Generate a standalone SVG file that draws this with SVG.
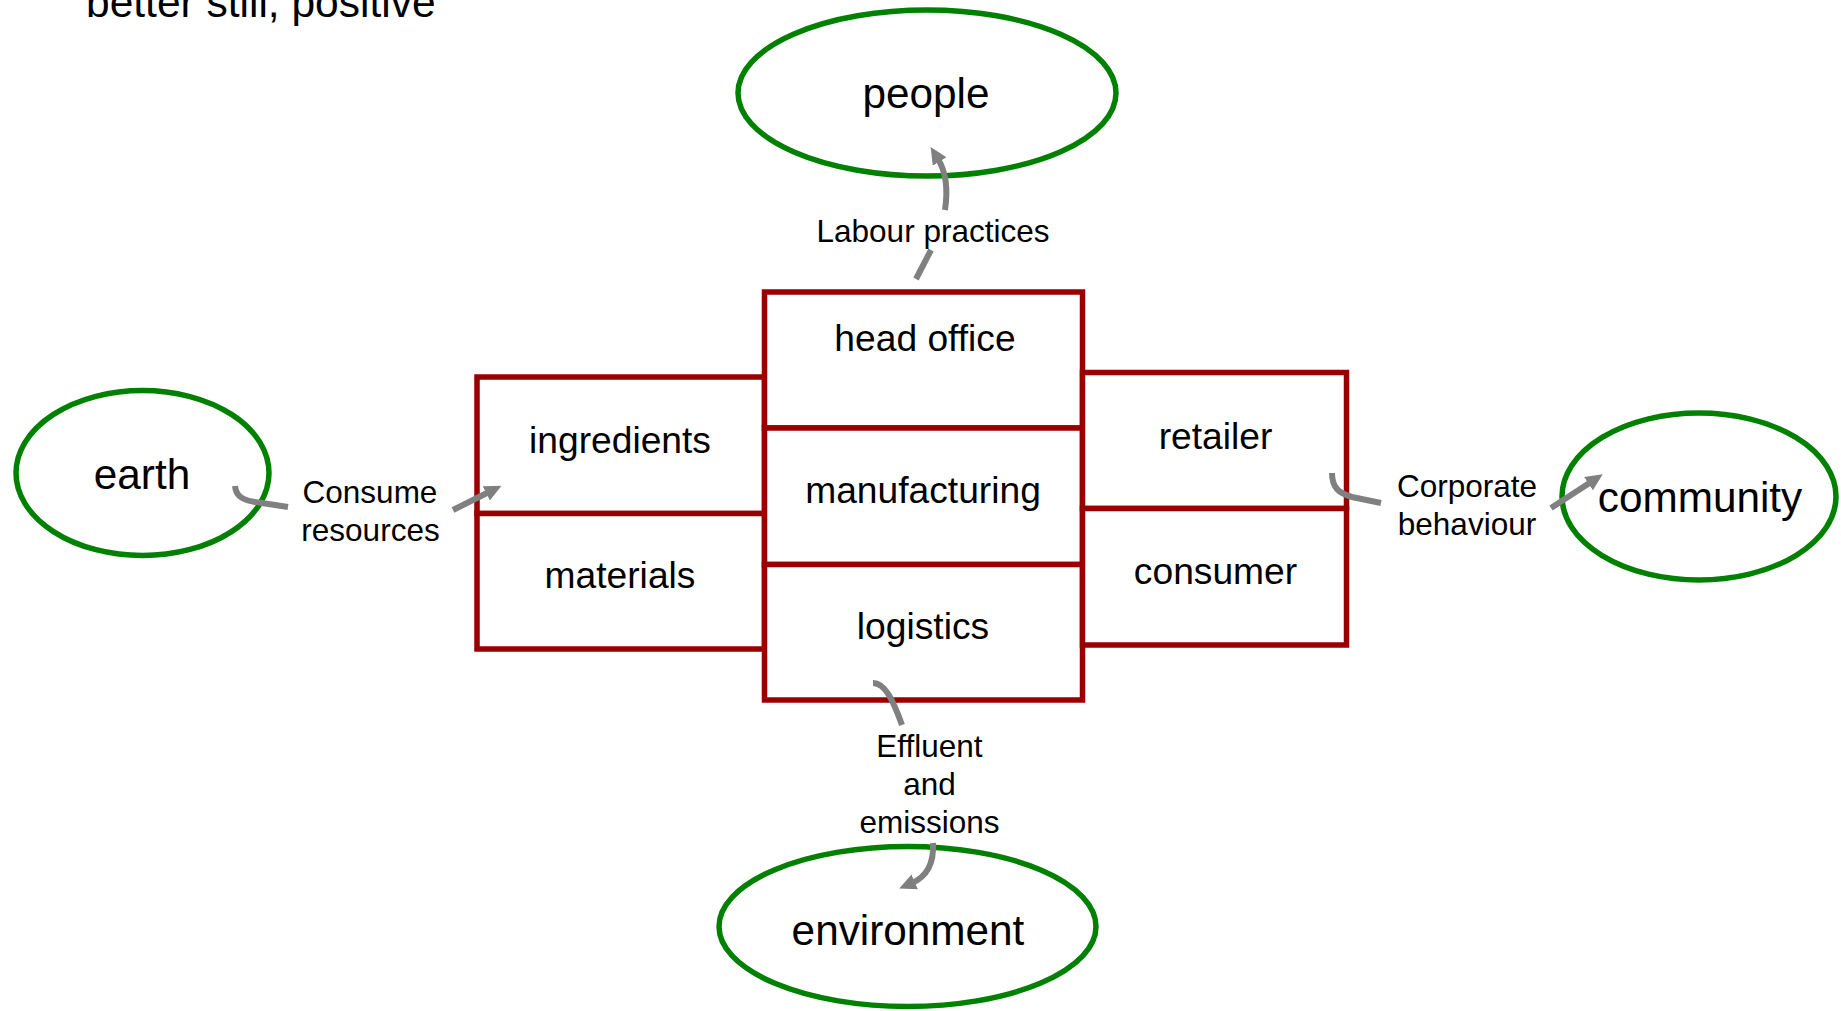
<svg xmlns="http://www.w3.org/2000/svg" width="1841" height="1011" viewBox="0 0 1841 1011">
  <style>
    .bg { fill: #ffffff; }
    .oval { fill: none; stroke: #008000; stroke-width: 5.5; }
    .box { fill: #ffffff; stroke: #990000; stroke-width: 5.5; }
    .conn { fill: none; stroke: #808080; stroke-width: 6; }
    text { font-family: "Liberation Sans", Arial, sans-serif; fill: #000000; }
    .big { font-size: 42.3px; text-anchor: middle; }
    .mid { font-size: 37.2px; text-anchor: middle; }
    .small { font-size: 31.5px; text-anchor: middle; }
    .head { font-size: 42.5px; }
  </style>
  <defs>
    <marker id="arrow" viewBox="0 0 17 16" refX="3" refY="8" markerWidth="17" markerHeight="16" markerUnits="userSpaceOnUse" orient="auto">
      <path d="M0,0 L17,8 L0,16 z" fill="#808080"/>
    </marker>
  </defs>

  <rect class="bg" x="0" y="0" width="1841" height="1011"/>

  <text class="head" x="86" y="17">better still, positive</text>

  <!-- outer stakeholders -->
  <g id="people">
    <ellipse class="oval" cx="927" cy="93" rx="189" ry="83"/>
    <text class="big" x="926" y="108">people</text>
  </g>
  <g id="earth">
    <ellipse class="oval" cx="142.5" cy="473" rx="126.5" ry="82.5"/>
    <text class="big" x="142" y="489">earth</text>
  </g>
  <g id="community">
    <ellipse class="oval" cx="1699" cy="496.5" rx="137" ry="83.5"/>
    <text class="big" x="1700" y="512">community</text>
  </g>
  <g id="environment">
    <ellipse class="oval" cx="907.5" cy="926.5" rx="188.5" ry="80"/>
    <text class="big" x="908" y="945">environment</text>
  </g>

  <!-- supply chain blocks -->
  <g id="ingredients">
    <rect class="box" x="477" y="377" width="287.5" height="136.5"/>
    <text class="mid" x="620" y="452.5">ingredients</text>
  </g>
  <g id="materials">
    <rect class="box" x="477" y="513.5" width="287.5" height="135.5"/>
    <text class="mid" x="620" y="588">materials</text>
  </g>
  <g id="head-office">
    <rect class="box" x="764.5" y="292" width="318" height="136"/>
    <text class="mid" x="925" y="351">head office</text>
  </g>
  <g id="manufacturing">
    <rect class="box" x="764.5" y="428" width="318" height="136.5"/>
    <text class="mid" x="923" y="503">manufacturing</text>
  </g>
  <g id="logistics">
    <rect class="box" x="764.5" y="564.5" width="318" height="135.5"/>
    <text class="mid" x="923" y="639">logistics</text>
  </g>
  <g id="retailer">
    <rect class="box" x="1082.5" y="372.5" width="264" height="136"/>
    <text class="mid" x="1215.5" y="449">retailer</text>
  </g>
  <g id="consumer">
    <rect class="box" x="1082.5" y="508.5" width="264" height="136.5"/>
    <text class="mid" x="1215.5" y="584">consumer</text>
  </g>

  <!-- impact connectors with their labels -->
  <g id="connectors">
    <path class="conn" d="M 931 250 L 916 279"/>
    <path class="conn" d="M 945 210 C 948 190, 946 172, 938 159" marker-end="url(#arrow)"/>
    <text class="small" x="933" y="242">Labour practices</text>

    <path class="conn" d="M 235 486 C 236 498, 245 501, 262 503 L 288 507"/>
    <path class="conn" d="M 453 510 L 489 492" marker-end="url(#arrow)"/>
    <text class="small" x="370" y="503">Consume</text>
    <text class="small" x="370.5" y="541">resources</text>

    <path class="conn" d="M 1332 473 C 1332 487, 1338 493, 1352 497 L 1381 503"/>
    <path class="conn" d="M 1551 508 L 1591 482" marker-end="url(#arrow)"/>
    <text class="small" x="1467" y="497">Corporate</text>
    <text class="small" x="1467" y="535">behaviour</text>

    <path class="conn" d="M 873 683 C 885 683, 893 700, 902 725"/>
    <path class="conn" d="M 933 843 C 934 862, 928 876, 912 883" marker-end="url(#arrow)"/>
    <text class="small" x="929.5" y="757">Effluent</text>
    <text class="small" x="929.5" y="795">and</text>
    <text class="small" x="929.5" y="833">emissions</text>
  </g>
</svg>
